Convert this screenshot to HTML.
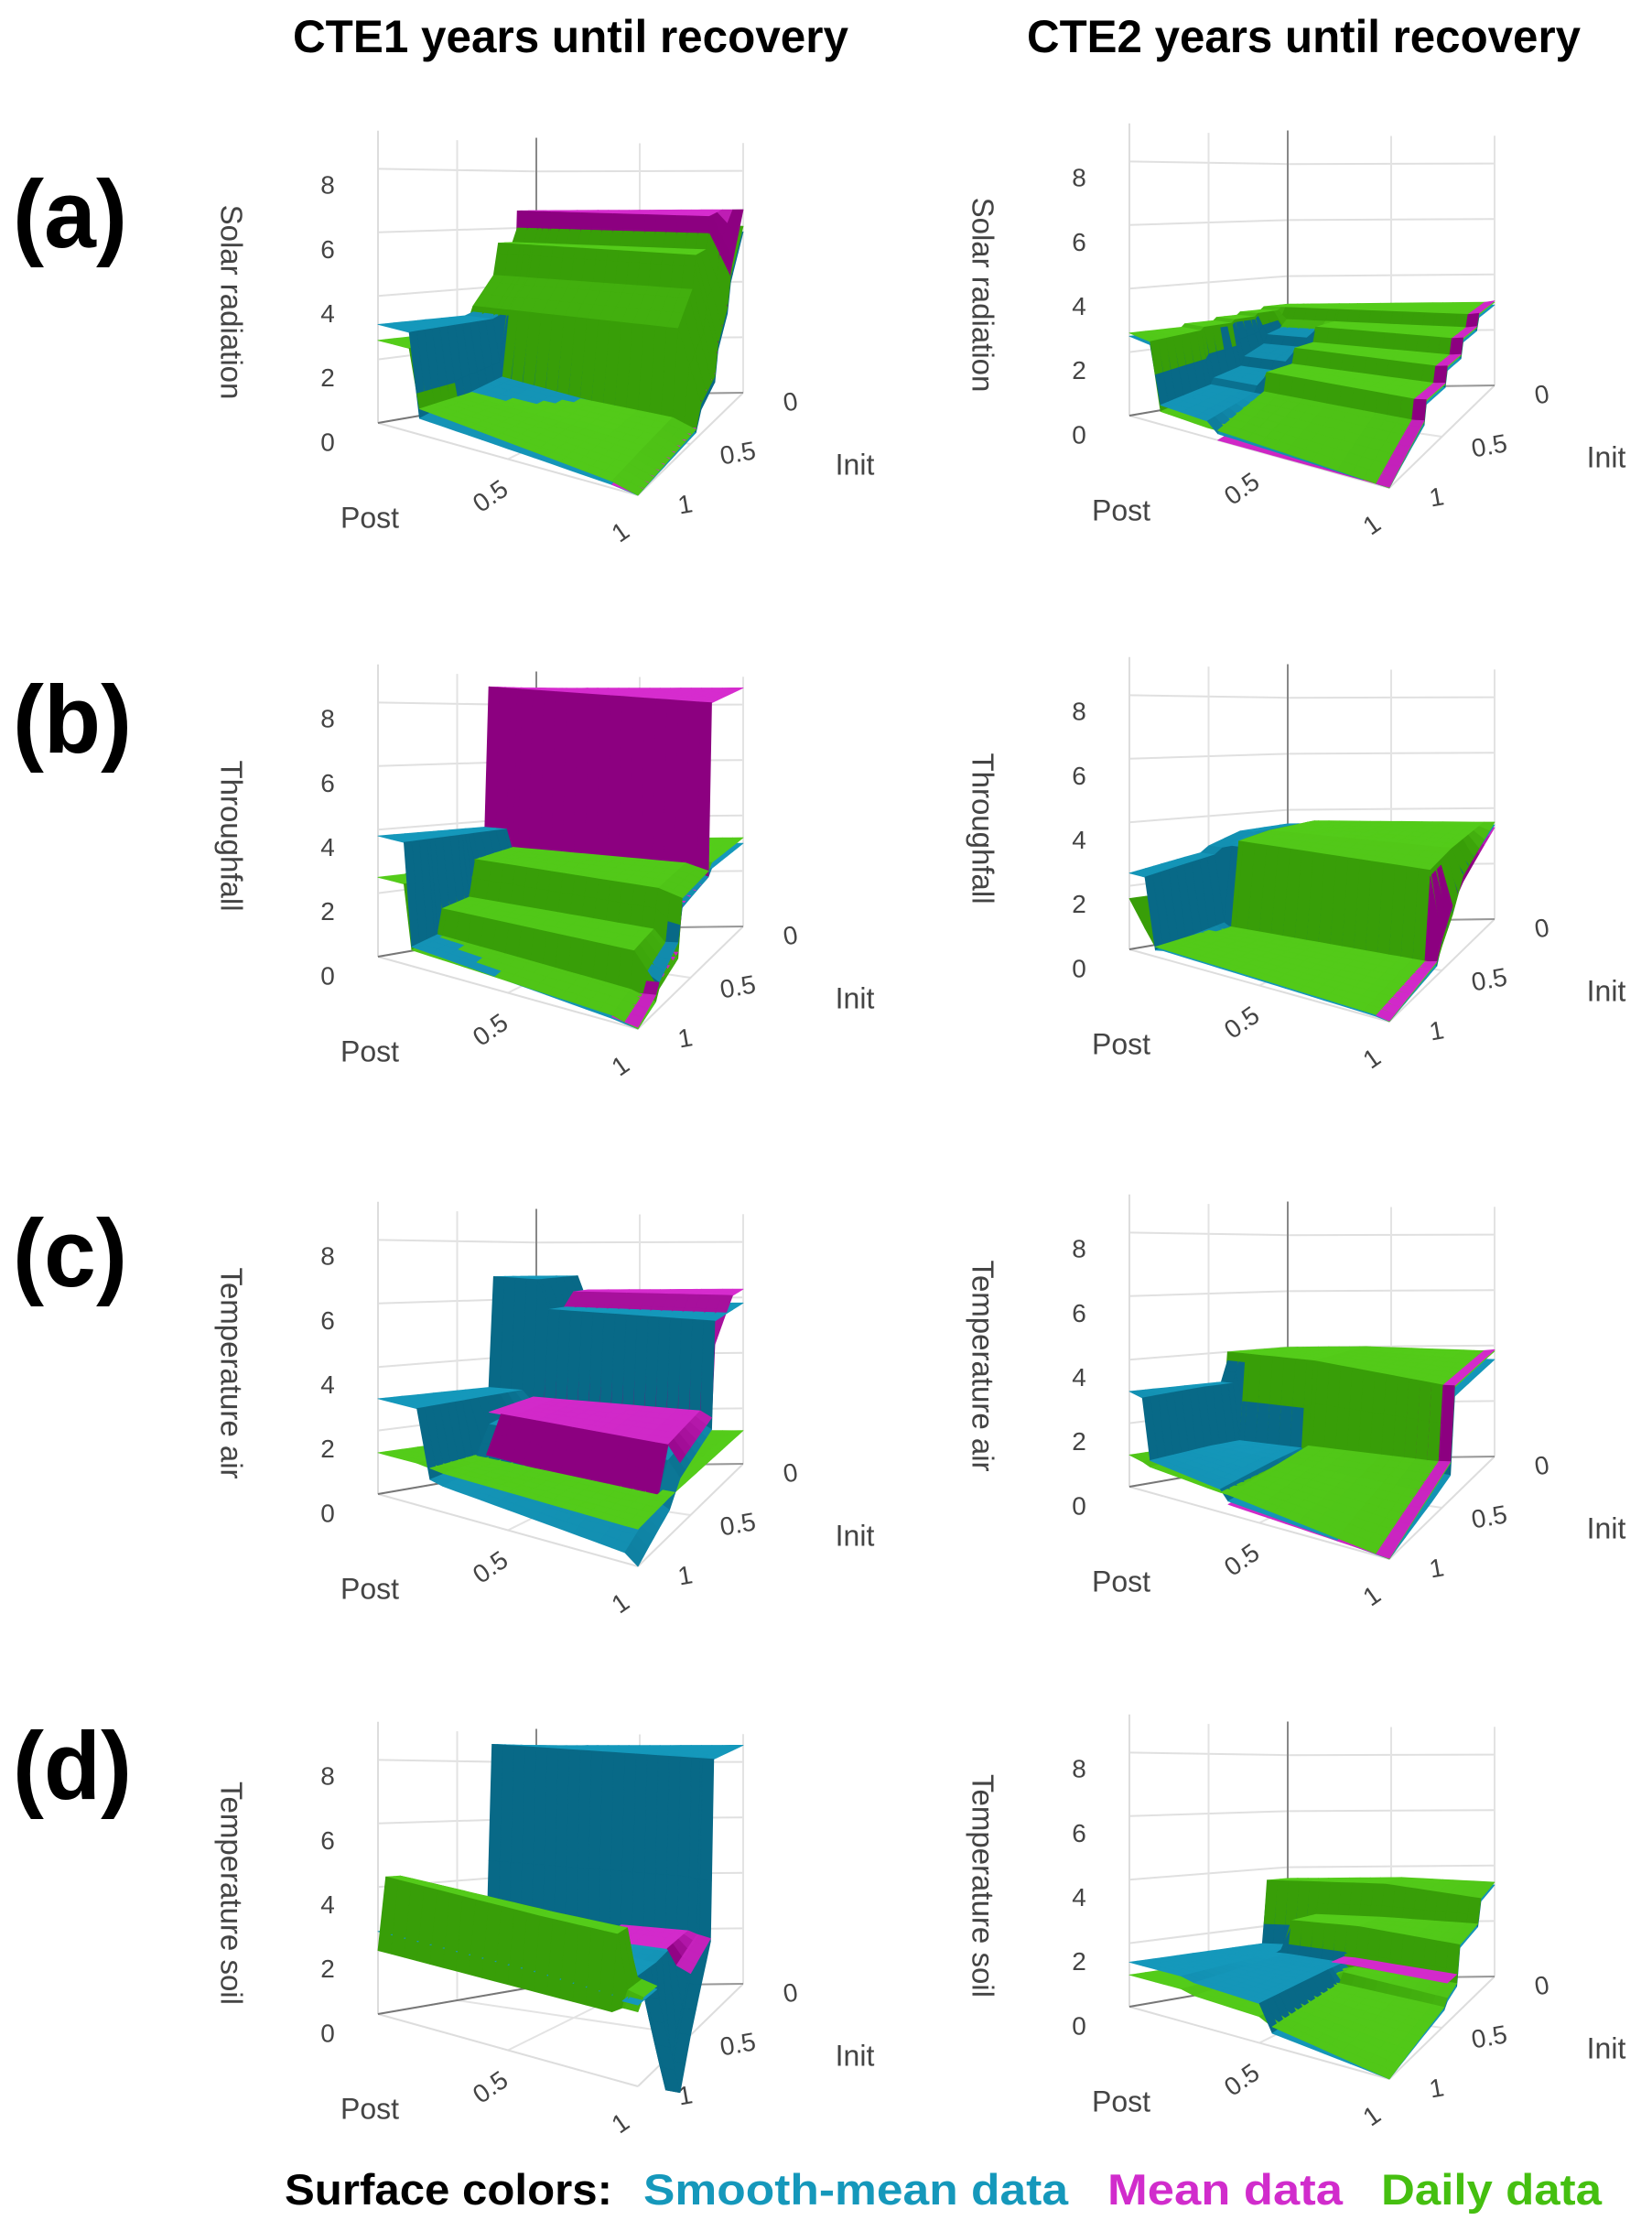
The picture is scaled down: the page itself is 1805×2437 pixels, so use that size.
<!DOCTYPE html>
<html><head><meta charset="utf-8"><style>
html,body{margin:0;padding:0;background:#fff}
svg{display:block}
text{font-family:"Liberation Sans",sans-serif}
</style></head><body>
<svg id="fig" xmlns="http://www.w3.org/2000/svg" width="1805" height="2437" viewBox="0 0 1805 2437">
<text x="320" y="57" font-size="50" font-weight="bold" textLength="607" lengthAdjust="spacingAndGlyphs">CTE1 years until recovery</text>
<text x="1122" y="57" font-size="50" font-weight="bold" textLength="605" lengthAdjust="spacingAndGlyphs">CTE2 years until recovery</text>
<text x="14" y="270" font-size="105" font-weight="bold" textLength="125" lengthAdjust="spacingAndGlyphs">(a)</text>
<text x="14" y="822" font-size="105" font-weight="bold" textLength="130" lengthAdjust="spacingAndGlyphs">(b)</text>
<text x="14" y="1405" font-size="105" font-weight="bold" textLength="125" lengthAdjust="spacingAndGlyphs">(c)</text>
<text x="14" y="1965" font-size="105" font-weight="bold" textLength="130" lengthAdjust="spacingAndGlyphs">(d)</text>
<g font-size="47" font-weight="bold">
<text x="311" y="2408" textLength="358" lengthAdjust="spacingAndGlyphs" fill="#000">Surface colors:</text>
<text x="703" y="2408" textLength="464" lengthAdjust="spacingAndGlyphs" fill="#1598bb">Smooth-mean data</text>
<text x="1210" y="2408" textLength="257" lengthAdjust="spacingAndGlyphs" fill="#d12ccc">Mean data</text>
<text x="1509" y="2408" textLength="241" lengthAdjust="spacingAndGlyphs" fill="#45bf10">Daily data</text>
</g>
</svg>
<script>
const N = null;
const zTicks = [0,2,4,6,8];
const zTickLabels = ["0","2","4","6","8"];
const postTickLabels = ["0.5","1"];
const initTickLabels = ["0","0.5","1"];
const zTitles = ["Solar radiation","Throughfall","Temperature air","Temperature soil"];

// ---- (a) CTE1 ----
const aL_post = [0,0.12,0.16,0.9,1];
const aL_init = [0,0.12,0.15,0.24,0.27,0.4,0.45,1];
const aL_daily = [[6,6,5.5,5.5,4.4,3.4,2.6,2.6],[6,6,5.5,5.5,4.4,3.4,2.6,2.6],[6,6,5.5,5.5,4.4,3.4,1,0.8],[6,6,5.5,5.5,4.4,3.4,0.6,0.2],[6,4.5,3.5,2.5,1.5,1,0.3,0]];
const aL_smooth = [[5.8,5.8,5.3,5.3,4.2,3.2,3.1,3.1],[5.8,5.8,5.3,5.3,4.2,3.2,3.1,3.1],[5.8,5.8,5.3,5.3,4.2,3.2,1.2,0.5],[5.8,5.8,5.3,5.3,4.2,3.2,0.4,0.1],[5.8,4.3,3.3,2.3,1.3,0.8,0.2,0]];
const aL_mean = [[6.6,6.6,0.5,N,N,N,N,N],[6.6,6.6,0.5,N,N,N,N,N],[6.6,6.6,0.5,N,N,N,N,N],[6.6,6.6,0.5,2.4,1.4,0.9,0.3,0.1],[6.6,4.7,3.6,2.6,1.6,1.1,0.35,0.02]];
// ---- (a) CTE2 ----
const aR_post = [0,0.08,0.12,0.3,0.34,1];
const aR_init = [0,0.15,0.17,0.3,0.32,0.45,0.47,0.65,0.67,1];
const aR_daily = [[3,3,2.9,2.9,2.8,2.8,2.7,2.7,2.6,2.6],[3,3,2.9,2.9,2.8,2.8,2.7,2.7,2.6,2.5],[3,3,2.6,1.8,1.6,1.2,1,0.8,0.7,0.4],[3,3,2.6,1.8,1.6,1.2,1,0.8,0.7,0.3],[3,3,2.6,2.6,2.1,2.1,1.6,1.6,1,0.3],[3,3,2.6,2.6,2.1,2.1,1.6,1.6,1,0]];
const aR_smooth = [[2.9,2.9,2.8,2.8,2.7,2.7,2.6,2.6,2.5,2.5],[2.9,2.9,2.8,2.8,2.7,2.7,2.6,2.6,2.5,2.4],[2.9,2.9,2.4,2.2,1.9,1.6,1.3,1.1,0.9,0.6],[2.9,2.9,2.4,2.2,1.9,1.6,1.3,1.1,0.9,0.5],[2.9,2.9,2.5,2.5,2,2,1.5,1.5,0.9,0.2],[2.9,2.9,2.5,2.5,2,2,1.5,1.5,0.9,0]];
const aR_mean = [[N,N,N,N,N,N,N,N,N,N],[N,N,N,N,N,N,N,N,N,N],[N,N,N,N,N,N,N,N,N,N],[N,N,N,N,N,N,N,N,N,N],[2.3,2.3,1.9,1.9,1.4,1.4,0.9,0.9,0.3,0],[3.05,3.05,2.65,2.65,2.15,2.15,1.65,1.65,1.05,0.02]];
// ---- (b) CTE1 ----
const bL_post = [0,0.1,0.13,0.9,1];
const bL_init = [0,0.3,0.33,0.58,0.62,0.8,0.83,1];
const bL_daily = [[3,3,3,3,2.6,2.6,2.5,2.5],[3,3,3,3,2.6,2.6,2.5,2.5],[3.2,3.2,3.2,3,1.8,1.6,0.8,0.5],[3.2,3.2,3.2,3,1.8,1.6,0.5,0.2],[3.2,3.2,3,2.8,1,0.6,0.3,0]];
const bL_smooth = [[3.8,3.8,3.8,3.8,3.8,3.8,3.8,3.8],[3.8,3.8,3.8,3.8,3.8,3.8,3.8,3.8],[3,3,3,2.8,1.6,1.4,0.8,0.6],[3,3,3,2.8,1.4,1.2,0.3,0.1],[3,3,2.8,2.5,1.5,0.8,0.3,0]];
const bL_mean = [[8.6,8.6,2.8,N,N,N,N,N],[8.6,8.6,2.8,N,N,N,N,N],[8.6,8.6,2.8,N,N,N,N,N],[8.6,8.6,2.8,2.5,1.1,0.7,0.4,0.15],[8.6,8.6,2.8,2.6,1.2,0.8,0.5,0.05]];
// ---- (b) CTE2 ----
const bR_post = [0,0.06,0.1,0.13,0.95,1];
const bR_init = [0,0.3,0.4,0.5,0.55,1];
const bR_daily = [[1.6,1.6,1.6,1.6,1.6,1.6],[1.4,1.3,1.2,1.2,1.1,0.8],[0.9,0.8,0.7,0.6,0.5,0.3],[3.6,3.5,3.4,3.3,0.5,0.3],[3.5,3.4,3.3,3.2,0.4,0.1],[3.5,2.5,1.5,0.8,0.4,0]];
const bR_smooth = [[3.5,3.4,3.2,3,2.8,2.4],[3.5,3.4,3.2,3,2.8,2.4],[3.4,3.3,3.2,3.1,0.6,0.2],[3.4,3.3,3.2,3.1,0.45,0.25],[3.3,3.2,3.1,3,0.35,0.05],[3.4,2.6,1.6,0.9,0.3,0]];
const bR_mean = [[N,N,N,N,N,N],[N,N,N,N,N,N],[N,N,N,N,N,N],[N,N,N,N,N,N],[3.3,3.2,3.1,3,0.38,0.08],[3.3,2.3,1.8,1,0.45,0.02]];
// ---- (c) CTE1 ----
const cL_post = [0,0.15,0.2,0.25,0.95,1];
const cL_init = [0,0.1,0.27,0.3,0.6,0.7,1];
const cL_daily = [[1.3,1.3,1.3,1.3,1.3,1.3,1.3],[1.3,1.3,1.3,1.3,1.3,1.3,1.3],[1.3,1.3,1.3,1.3,1.3,1.3,1.25],[1.3,1.3,1.3,1.3,1.3,1.3,1.2],[1.2,1.2,1.2,1.2,1.2,1.2,1.1],[1.2,1.2,1.2,1.2,1.2,1.2,1.1]];
const cL_smooth = [[6.8,6.8,6.8,3,3,3,3],[6.8,6.8,6.8,3,3,3,3],[6.8,6.8,6.8,2.6,2.2,1.1,0.9],[5.8,5.8,5.8,2.6,2.2,1.1,0.8],[5.8,5.8,5.8,2.4,2,1,0.3],[5.8,5.8,5.8,2.2,1.5,0.8,0]];
const cL_mean = [[N,N,N,N,N,N,N],[N,N,N,N,N,N,N],[N,N,N,2.8,2.6,N,N],[6.3,6.3,5,2.8,2.6,1.4,N],[6.3,6.3,5,2.8,2.5,1,N],[6.3,6.3,5,2.6,2,N,N]];
// ---- (c) CTE2 ----
const cR_post = [0,0.05,0.08,0.35,0.38,1];
const cR_init = [0,0.38,0.42,0.6,1];
const cR_daily = [[4,4,1,1,1],[4,4,1,1,0.9],[4,4,0.9,0.9,0.8],[4,4,0.9,0.8,0.6],[4,4,1.2,1,0.6],[3.8,3.6,1.2,0.8,0]];
const cR_smooth = [[3.7,3.7,3,3,3],[3.7,3.7,3,3,2.9],[3.7,3.7,1.1,1.1,1],[3.7,3.7,1.1,1,0.7],[3.7,3.7,0.9,0.7,0.4],[3.5,3.3,0.8,0.5,0]];
const cR_mean = [[N,N,N,N,N],[N,N,N,N,N],[N,N,N,N,N],[N,N,N,N,N],[3.5,3.4,0.8,0.6,0.3],[3.85,3.65,1.25,0.85,0.02]];
// ---- (d) CTE1 ----
const dL_post = [0,0.6,0.9,0.94,1];
const dL_init = [0,0.28,0.31,0.5,0.6,0.82,0.86,0.95,1];
const dL_daily = [[N,N,N,N,N,2.7,4.3,4.3,2],[N,N,N,N,N,2.7,4.2,4.2,2],[N,N,N,N,N,2.7,4.2,4.2,2],[N,N,N,N,N,2.6,2.6,2.6,2.2],[N,N,N,N,N,2.5,2.5,2.5,2.2]];
const dL_smooth = [[8.6,8.6,2.6,2.6,2.6,2.6,2.6,2.6,2.6],[8.6,8.6,2.6,2.6,2.6,2.6,2.6,2.6,2.6],[8.6,8.6,2.6,2.6,2.5,2.5,2.5,2.5,2.5],[8.6,8.6,2.5,0,-1.5,2.4,2.4,2.4,2.4],[8.6,8.6,2.5,0,-1.5,2.4,2.4,2.4,2.4]];
const dL_mean = [[N,N,N,N,N,N,N,N,N],[N,N,2.8,2.7,N,N,N,N,N],[N,N,2.8,2.7,N,N,N,N,N],[N,N,2.7,2.2,N,N,N,N,N],[N,N,2.6,2,N,N,N,N,N]];
// ---- (d) CTE2 ----
const dR_post = [0,0.2,0.25,0.5,0.55,1];
const dR_init = [0,0.13,0.16,0.33,0.36,0.45,0.48,1];
const dR_daily = [[3.6,3.6,1.2,1.2,1.1,1.1,1,1],[3.6,3.6,1.2,1.2,1.1,1.1,1,1],[3.6,3.6,2.5,2.5,1.1,1.1,1,0.9],[3.6,3.6,2.5,2.5,1.1,1,0.9,0.8],[3.6,3.6,2.5,2.5,1.2,1.2,0.9,0.6],[3.4,3.2,2.4,2.2,1,0.8,0.6,0]];
const dR_smooth = [[3.4,3.4,1.4,1.4,1.4,1.4,1.4,1.4],[3.4,3.4,1.4,1.4,1.4,1.4,1.4,1.4],[3.4,3.4,2.3,2.3,1.4,1.4,1.4,1.3],[3.4,3.4,2.3,2.3,1.3,1.3,1.3,1.2],[3.4,3.4,2.3,2.3,0.9,0.8,0.7,0.4],[3.3,3.1,2.3,2.1,0.9,0.7,0.5,0]];
const dR_mean = [[N,N,N,N,N,N,N,N],[N,N,N,N,N,N,N,N],[N,N,N,N,N,N,N,N],[N,N,N,N,1.5,1.5,N,N],[N,N,N,N,1.5,1.5,N,N],[N,N,N,N,1.3,1.3,N,N]];

const svg = document.getElementById('fig');
const NS = "http://www.w3.org/2000/svg";
const rowDY = [0,583,1170,1738];
const colDX = [0,821];
const colDYextra = [0,-8];
const C = {c00:[586,432,30.6], c01:[413,462,34.7], c11:[697,541,37], c10:[812,429,30.3]};
const COL = {smooth:{light:[21,152,187],dark:[8,105,135]}, mean:{light:[214,44,206],dark:[140,0,128]}, daily:{light:[84,204,26],dark:[56,158,8]}};
const SUB = 20;

function proj(ox,oy,p,i,z){
  const w00=(1-p)*(1-i), w01=(1-p)*i, w11=p*i, w10=p*(1-i);
  const x=w00*C.c00[0]+w01*C.c01[0]+w11*C.c11[0]+w10*C.c10[0];
  const y=w00*C.c00[1]+w01*C.c01[1]+w11*C.c11[1]+w10*C.c10[1];
  const s=w00*C.c00[2]+w01*C.c01[2]+w11*C.c11[2]+w10*C.c10[2];
  return [ox+x, oy+y-z*s];
}
function mk(tag,attrs,parent){const e=document.createElementNS(NS,tag);for(const k in attrs)e.setAttribute(k,attrs[k]);(parent||svg).appendChild(e);return e;}
function line(g,a,b,col,w){
  const l=mk('line',{x1:a[0],y1:a[1],x2:b[0],y2:b[1],stroke:col,'stroke-width':w},g);
  
  
}
function txt(g,x,y,s,size,rot,name){
  const t=mk('text',{x:x,y:y,'font-size':size,fill:'#444','text-anchor':'middle','dominant-baseline':'middle'},g);
  if(rot)t.setAttribute('transform','rotate('+rot+' '+x+' '+y+')');
  t.textContent=s;
  
  
}
function fineAxis(src){
  const s=new Set(src.map(v=>+v.toFixed(4)));
  for(let k=0;k<=SUB;k++)s.add(+(k/SUB).toFixed(4));
  return [...s].sort((a,b)=>a-b);
}
function findCell(ax,v){for(let k=0;k<ax.length-1;k++){if(v>=ax[k]&&v<=ax[k+1])return k;}return ax.length-2;}
function panel(r,c,gp,gi,series,title){
  const ox=colDX[c], oy=rowDY[r]+colDYextra[c];
  const g=mk('g',{});
  
  
  const P=(p,i,z)=>proj(ox,oy,p,i,z);
  zTicks.forEach(z=>{ line(g,P(0,1,z),P(0,0,z),'#e0e0e0',2); line(g,P(0,0,z),P(1,0,z),'#e0e0e0',2); });
  [0.5,1].forEach(v=>{ line(g,P(0,v,0),P(0,v,9),'#e3e3e3',2); line(g,P(v,0,0),P(v,0,9),'#e3e3e3',2); });
  line(g,P(0,0,0),P(0,0,9.2),'#888',2);
  line(g,P(0,1,0),P(0,1,9.2),'#ddd',2);
  line(g,P(0.5,0,0),P(0.5,1,0),'#e3e3e3',2); line(g,P(0,0.5,0),P(1,0.5,0),'#e3e3e3',2);
  line(g,P(0,1,0),P(1,1,0),'#ddd',2); line(g,P(1,1,0),P(1,0,0),'#ddd',2);
  line(g,P(0,1,0),P(0,0,0),'#777',2); line(g,P(0,0,0),P(1,0,0),'#999',2);
  zTicks.forEach((z,k)=>{ const q=P(0,1,z); txt(g,q[0]-55,q[1]+23-z*0.4,zTickLabels[k],28,0,'z-tick-label'); });
  [0.5,1].forEach((v,k)=>{ const q=P(v,1,0); txt(g,q[0]-18,q[1]+42,postTickLabels[k],28,-35,'post-tick-label'); });
  [0,0.5,1].forEach((v,k)=>{ const q=P(1,v,0); txt(g,q[0]+52,q[1]+12,initTickLabels[k],28,-10,'init-tick-label'); });
  const pl=P(0,1,0); txt(g,pl[0]-9,pl[1]+106,'Post',32,0,'post-axis-title');
  const il=P(1,0,0); txt(g,il[0]+122,il[1]+81,'Init',32,0,'init-axis-title');
  txt(g,ox+250,oy+330,title,33,90,'z-axis-title');
  const fp=fineAxis(gp), fi=fineAxis(gi);
  const quads=[];
  ['smooth','mean','daily'].forEach(nm=>{
    const d=series[nm];
    for(let a=0;a<fp.length-1;a++)for(let b=0;b<fi.length-1;b++){
      const pc=(fp[a]+fp[a+1])/2, ic=(fi[b]+fi[b+1])/2;
      const sa=findCell(gp,pc), sb=findCell(gi,ic);
      const s=[d[sa][sb],d[sa][sb+1],d[sa+1][sb+1],d[sa+1][sb]];
      if(s.some(x=>x===null))continue;
      const H=(p,i)=>{const u=(p-gp[sa])/(gp[sa+1]-gp[sa]), w=(i-gi[sb])/(gi[sb+1]-gi[sb]);
        return (1-u)*(1-w)*s[0]+(1-u)*w*s[1]+u*w*s[2]+u*(1-w)*s[3];};
      const v=[H(fp[a],fi[b]),H(fp[a],fi[b+1]),H(fp[a+1],fi[b+1]),H(fp[a+1],fi[b])];
      quads.push({nm,a,b,v,zc:(v[0]+v[1]+v[2]+v[3])/4,key:a+b});
    }
  });
  quads.sort((q1,q2)=>q1.key-q2.key||q1.zc-q2.zc);
  quads.forEach(q=>{
    const {a,b,v}=q;
    const dp=fp[a+1]-fp[a], di=fi[b+1]-fi[b];
    const pts=[P(fp[a],fi[b],v[0]),P(fp[a],fi[b+1],v[1]),P(fp[a+1],fi[b+1],v[2]),P(fp[a+1],fi[b],v[3])];
    const sp=Math.abs(v[0]+v[1]-v[2]-v[3])/2/dp, si=Math.abs(v[0]+v[3]-v[1]-v[2])/2/di;
    const slope=Math.min(1,Math.max(sp,si)/12);
    const cc=COL[q.nm], m=cc.light.map((L,k)=>Math.round(L+(cc.dark[k]-L)*slope));
    const col='rgb('+m.join(',')+')';
    const poly=mk('polygon',{points:pts.map(p=>p[0].toFixed(1)+','+p[1].toFixed(1)).join(' '),fill:col,stroke:col,'stroke-width':0.8,'stroke-linejoin':'round'},g);
    
    
  });
}
panel(0,0,aL_post,aL_init,{smooth:aL_smooth,mean:aL_mean,daily:aL_daily},zTitles[0]);
panel(0,1,aR_post,aR_init,{smooth:aR_smooth,mean:aR_mean,daily:aR_daily},zTitles[0]);
panel(1,0,bL_post,bL_init,{smooth:bL_smooth,mean:bL_mean,daily:bL_daily},zTitles[1]);
panel(1,1,bR_post,bR_init,{smooth:bR_smooth,mean:bR_mean,daily:bR_daily},zTitles[1]);
panel(2,0,cL_post,cL_init,{smooth:cL_smooth,mean:cL_mean,daily:cL_daily},zTitles[2]);
panel(2,1,cR_post,cR_init,{smooth:cR_smooth,mean:cR_mean,daily:cR_daily},zTitles[2]);
panel(3,0,dL_post,dL_init,{smooth:dL_smooth,mean:dL_mean,daily:dL_daily},zTitles[3]);
panel(3,1,dR_post,dR_init,{smooth:dR_smooth,mean:dR_mean,daily:dR_daily},zTitles[3]);
</script>
</body></html>
